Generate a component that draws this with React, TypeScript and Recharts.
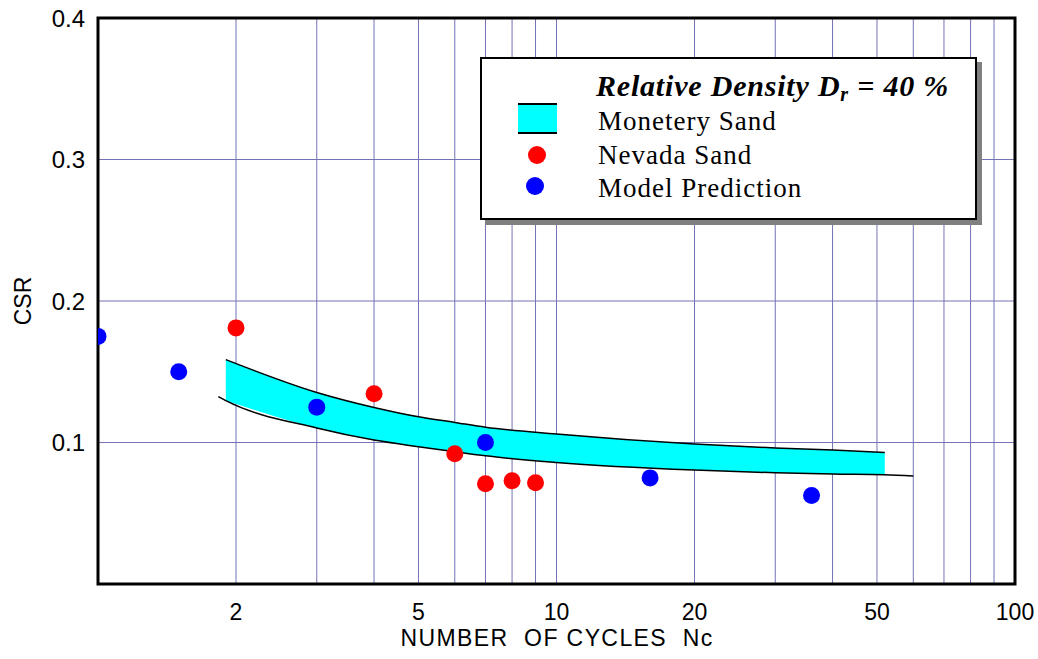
import {
  ComposedChart, Area, Line, Scatter, XAxis, YAxis, CartesianGrid, ReferenceArea,
} from 'recharts'

// band (Monetery Sand) – upper / lower bounds
const bandN = [1.9, 3, 4, 5, 6, 7, 10, 20, 30, 40, 52]
const bandUpper = [0.1586, 0.1354, 0.1248, 0.1182, 0.1142, 0.1108, 0.106, 0.0989, 0.0961, 0.0947, 0.093]
const bandLower = [0.1296, 0.1102, 0.1017, 0.097, 0.0935, 0.0906, 0.0859, 0.0805, 0.0786, 0.0777, 0.0772]
// lower edge line runs past the fill on both ends
const lowerLineN = [1.83, 1.9, 3, 4, 5, 6, 7, 10, 20, 30, 40, 52, 60]
const lowerLineCsr = [0.1324, 0.1296, 0.1102, 0.1017, 0.097, 0.0935, 0.0906, 0.0859, 0.0805, 0.0786, 0.0777, 0.0772, 0.0763]

const nevadaN = [2, 4, 6, 7, 8, 9]
const nevadaCsr = [0.181, 0.1345, 0.092, 0.0708, 0.0729, 0.0715]

const modelN = [1, 1.5, 3, 7, 16, 36]
const modelCsr = [0.175, 0.15, 0.125, 0.1, 0.075, 0.0625]

const xTicks = [1, 2, 3, 4, 5, 6, 7, 8, 9, 10, 20, 30, 40, 50, 60, 70, 80, 90, 100]
const xLabeled = [2, 5, 10, 20, 50, 100]
const yTicks = [0, 0.1, 0.2, 0.3, 0.4]

const bandData = bandN.map((n, i) => ({ n, band: [bandLower[i], bandUpper[i]] }))
const upperData = bandN.map((n, i) => ({ n, csr: bandUpper[i] }))
const lowerData = lowerLineN.map((n, i) => ({ n, csr: lowerLineCsr[i] }))
const nevadaData = nevadaN.map((n, i) => ({ n, csr: nevadaCsr[i] }))
const modelData = modelN.map((n, i) => ({ n, csr: modelCsr[i] }))

const SANS = '"Liberation Sans", Arial, Helvetica, sans-serif'
const SERIF = '"Liberation Serif", "Times New Roman", serif'
const GRID = '#7373b5'

const dot = (color: string) => (p: any) => (
  <circle cx={p.cx} cy={p.cy} r={8.5} fill={color} />
)

function Legend() {
  const txt: React.CSSProperties = {
    position: 'absolute', left: 116, fontFamily: SERIF, fontSize: 27, lineHeight: '27px',
    letterSpacing: 1, whiteSpace: 'nowrap', color: '#000',
  }
  return (
    <div style={{
      position: 'absolute', left: 480, top: 57, width: 497, height: 163, boxSizing: 'border-box',
      border: '2px solid #000', background: '#fff', boxShadow: '5px 5px 0 #808080',
    }}>
      <div style={{ ...txt, left: 114, top: 12, fontWeight: 'bold', fontStyle: 'italic', fontSize: 30, lineHeight: '30px', letterSpacing: 0.8 }}>
        Relative Density D<sub style={{ fontSize: 20, verticalAlign: '-5px' }}>r</sub> = 40 %
      </div>
      <div style={{
        position: 'absolute', left: 36, top: 44, width: 39, height: 31, boxSizing: 'border-box',
        background: '#00ffff', borderTop: '2px solid #000', borderBottom: '2px solid #000',
      }} />
      <div style={{ ...txt, top: 49 }}>Monetery Sand</div>
      <div style={{ position: 'absolute', left: 46, top: 87, width: 18, height: 18, borderRadius: 9, background: '#ff0000' }} />
      <div style={{ ...txt, top: 83 }}>Nevada Sand</div>
      <div style={{ position: 'absolute', left: 44, top: 118, width: 18, height: 18, borderRadius: 9, background: '#0000ff' }} />
      <div style={{ ...txt, top: 116 }}>Model Prediction</div>
    </div>
  )
}

export default function App() {
  return (
    <div style={{ position: 'relative', width: 1038, height: 659, background: '#fff' }}>
      <style>{'body{margin:0}'}</style>
      <ComposedChart width={1038} height={659} margin={{ top: 18, right: 23, bottom: 0, left: 0 }}>
        <CartesianGrid stroke={GRID} strokeWidth={1} />
        <XAxis
          dataKey="n" type="number" scale="log" domain={[1, 100]} ticks={xTicks}
          allowDataOverflow height={75} axisLine={false} tickLine={false} tickSize={0} tickMargin={20}
          tick={{ fill: '#000', fontSize: 23, fontFamily: SANS }}
          tickFormatter={(v: number) => (xLabeled.includes(v) ? String(v) : '')}
          interval={0}
          label={{
            content: () => (
              <text x={557} y={646} textAnchor="middle" fontFamily={SANS} fontSize={23} fill="#000"
                style={{ whiteSpace: 'pre', letterSpacing: 1.4 }}>
                {'NUMBER  OF CYCLES  Nc'}
              </text>
            ),
          }}
        />
        <YAxis
          type="number" domain={[0, 0.4]} ticks={yTicks} width={98} allowDataOverflow
          axisLine={false} tickLine={false} tickSize={0} tickMargin={13} interval={0}
          tick={{ fill: '#000', fontSize: 24, fontFamily: SANS }}
          tickFormatter={(v: number) => (v === 0 ? '' : v.toFixed(1))}
          label={{
            content: () => (
              <text x={31} y={301} transform="rotate(-90 31 301)" textAnchor="middle"
                fontFamily={SANS} fontSize={23} fill="#000">CSR</text>
            ),
          }}
        />
        <Area data={bandData} dataKey="band" type="monotone" fill="#00ffff" fillOpacity={1}
          stroke="none" isAnimationActive={false} />
        <Line data={upperData} dataKey="csr" type="monotone" stroke="#000" strokeWidth={1.5}
          dot={false} isAnimationActive={false} />
        <Line data={lowerData} dataKey="csr" type="monotone" stroke="#000" strokeWidth={1.5}
          dot={false} isAnimationActive={false} />
        <Scatter data={nevadaData} dataKey="csr" shape={dot('#ff0000')} isAnimationActive={false} />
        <Scatter data={modelData} dataKey="csr" shape={dot('#0000ff')} isAnimationActive={false} />
        <ReferenceArea x1={1} x2={100} y1={0} y2={0.4} fill="none" stroke="#000" strokeWidth={3} />
      </ComposedChart>
      <Legend />
    </div>
  )
}
